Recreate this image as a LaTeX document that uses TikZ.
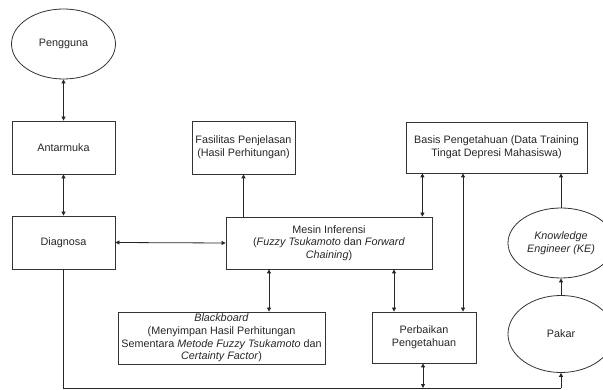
\documentclass[tikz,border=0pt]{standalone}
\usepackage{fontspec}
\setmainfont{Liberation Sans}
\usetikzlibrary{shapes.geometric,arrows.meta}
\begin{document}
\begin{tikzpicture}[x=1pt,y=-1pt,
  box/.style={draw=black!80,line width=0.8pt,minimum width=103pt,minimum height=53pt,align=center,inner sep=1pt,text=black!85,font=\fontsize{10.8}{12.6}\selectfont},
  ell/.style={draw=black!80,line width=0.8pt,ellipse,minimum width=104pt,minimum height=70pt,align=center,inner sep=0pt,text=black!85,font=\fontsize{10.8}{12.6}\selectfont},
  conn/.style={line width=0.8pt,draw=black!85,-{Triangle[length=4pt,width=4pt]}},
  bconn/.style={line width=0.8pt,draw=black!85,{Triangle[length=4pt,width=4pt]}-{Triangle[length=4pt,width=4pt]}},
  line/.style={line width=0.8pt,draw=black!85}]
\useasboundingbox (0,0) rectangle (603,390);
\node[ell] (pengguna) at (63.5,44) {Pengguna};
\node[box] (antarmuka) at (63.5,147.5) {Antarmuka};
\node[box] (fasilitas) at (243.5,147.5) {Fasilitas Penjelasan\\(Hasil Perhitungan)};
\node[box,minimum width=181pt,minimum height=51pt] (basis) at (496.5,147.5) {Basis Pengetahuan (Data Training\\Tingat Depresi Mahasiswa)};
\node[box] (diagnosa) at (63.5,242.5) {Diagnosa};
\node[box,minimum width=206pt,minimum height=52pt] (mesin) at (329,243) {Mesin Inferensi\\(\textit{Fuzzy Tsukamoto} dan \textit{Forward}\\\textit{Chaining})};
\node[box,minimum width=207pt,minimum height=52pt] (blackboard) at (221.5,338) {\textit{Blackboard}\\(Menyimpan Hasil Perhitungan\\Sementara \textit{Metode Fuzzy Tsukamoto} dan\\\textit{Certainty Factor})};
\node[box,minimum width=104pt,minimum height=51pt] (perbaikan) at (424,337.5) {Perbaikan\\Pengetahuan};
\node[ell,minimum width=106pt,minimum height=70pt] (ke) at (561,243) {\textit{Knowledge}\\\textit{Engineer (KE)}};
\node[ell,minimum width=106pt,minimum height=77pt] (pakar) at (561,334) {Pakar};
\coordinate (bl) at (63.5,388);
\coordinate (br) at (561,388);
\coordinate (bm) at (423,388);

\draw[bconn] (pengguna.south) -- (antarmuka.north);
\draw[bconn] (antarmuka.south) -- (diagnosa.north);
\draw[bconn] (diagnosa.east) -- (mesin.west);
\draw[conn] (mesin.north -| fasilitas.south) -- (fasilitas.south);
\draw[bconn] ([xshift=-10pt]mesin.north east) -- ([xshift=-10pt]mesin.north east |- basis.south);
\draw[bconn] (mesin.south -| 269,0) -- (blackboard.north -| 269,0);
\draw[bconn] (mesin.south -| 394,0) -- (perbaikan.north -| 394,0);
\draw[bconn] (perbaikan.north -| 463,0) -- (basis.south -| 463,0);
\draw[conn] (pakar.north) -- (ke.south);
\draw[conn] (ke.north) -- (ke.north |- basis.south);
\draw[line] (diagnosa.south) -- (bl) -- (br);
\draw[conn] (br) -- (pakar.south);
\draw[bconn] (perbaikan.south -| bm) -- (bm);
\end{tikzpicture}
\end{document}
